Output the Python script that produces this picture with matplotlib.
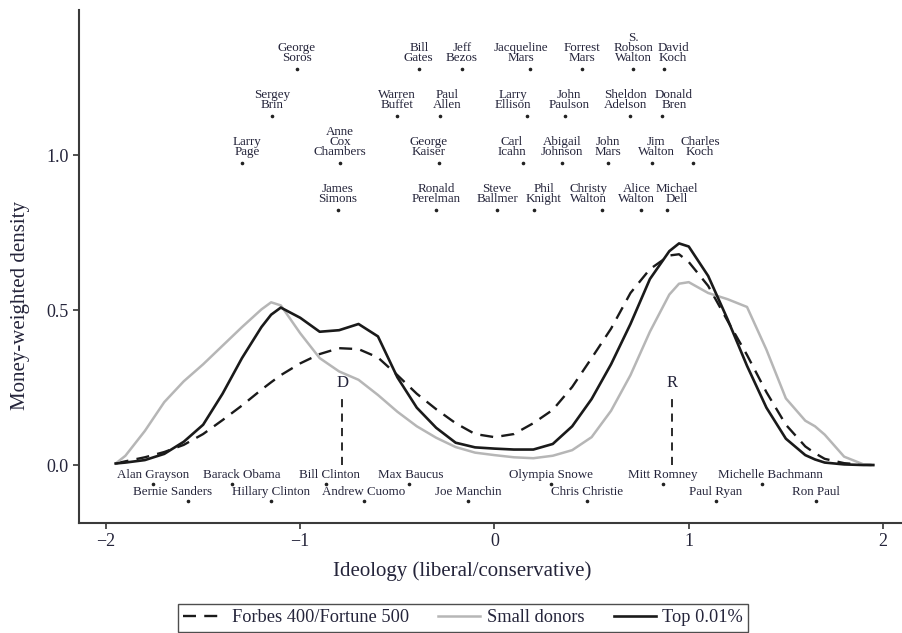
import matplotlib
matplotlib.use("Agg")
import matplotlib.pyplot as plt

plt.rcParams['font.family'] = ['Liberation Serif', 'DejaVu Serif']

# ---------------- data ----------------
x_grid = [-1.95, -1.9, -1.8, -1.7, -1.6, -1.5, -1.4, -1.3, -1.2, -1.15, -1.1, -1.0,
          -0.9, -0.8, -0.7, -0.6, -0.5, -0.4, -0.3, -0.2, -0.1, 0.0, 0.1, 0.2,
          0.3, 0.4, 0.5, 0.6, 0.7, 0.8, 0.9, 0.95, 1.0, 1.1, 1.2, 1.3, 1.4, 1.5,
          1.6, 1.65, 1.7, 1.8, 1.9, 1.95]

forbes = [0.005, 0.012, 0.025, 0.042, 0.065, 0.100, 0.145, 0.192, 0.243, 0.267, 0.290, 0.328,
          0.358, 0.377, 0.374, 0.347, 0.290, 0.230, 0.180, 0.135, 0.100, 0.090, 0.100, 0.135,
          0.178, 0.252, 0.345, 0.440, 0.555, 0.632, 0.676, 0.680, 0.655, 0.578, 0.465, 0.355,
          0.235, 0.130, 0.060, 0.038, 0.020, 0.006, 0.001, 0.0]

small = [0.005, 0.030, 0.110, 0.203, 0.270, 0.325, 0.385, 0.445, 0.502, 0.525, 0.515, 0.425,
         0.345, 0.302, 0.275, 0.226, 0.172, 0.125, 0.088, 0.058, 0.040, 0.032, 0.025, 0.022,
         0.030, 0.048, 0.090, 0.175, 0.290, 0.430, 0.550, 0.585, 0.590, 0.555, 0.535, 0.510,
         0.372, 0.215, 0.143, 0.125, 0.098, 0.027, 0.002, 0.0]

top001 = [0.005, 0.008, 0.016, 0.036, 0.075, 0.130, 0.230, 0.345, 0.445, 0.485, 0.508, 0.475,
          0.430, 0.435, 0.455, 0.415, 0.283, 0.185, 0.120, 0.072, 0.057, 0.053, 0.050, 0.050,
          0.068, 0.125, 0.213, 0.325, 0.455, 0.600, 0.690, 0.715, 0.705, 0.610, 0.470, 0.320,
          0.185, 0.085, 0.032, 0.018, 0.008, 0.002, 0.0, 0.0]

series_labels = ["Forbes 400/Fortune 500", "Small donors", "Top 0.01%"]

# billionaires: name, ideology, row (0 = top row)
rich_names = ["George\nSoros", "Bill\nGates", "Jeff\nBezos", "Jacqueline\nMars", "Forrest\nMars",
              "S.\nRobson\nWalton", "David\nKoch",
              "Sergey\nBrin", "Warren\nBuffet", "Paul\nAllen", "Larry\nEllison", "John\nPaulson",
              "Sheldon\nAdelson", "Donald\nBren",
              "Larry\nPage", "Anne\nCox\nChambers", "George\nKaiser", "Carl\nIcahn", "Abigail\nJohnson",
              "John\nMars", "Jim\nWalton", "Charles\nKoch",
              "James\nSimons", "Ronald\nPerelman", "Steve\nBallmer", "Phil\nKnight", "Christy\nWalton",
              "Alice\nWalton", "Michael\nDell"]
rich_ideology = [-1.017, -0.390, -0.167, 0.183, 0.449, 0.713, 0.873,
                 -1.147, -0.502, -0.281, 0.167, 0.363, 0.698, 0.861,
                 -1.300, -0.795, -0.286, 0.147, 0.347, 0.584, 0.811, 1.022,
                 -0.806, -0.301, 0.013, 0.203, 0.553, 0.753, 0.888]
rich_row = [0] * 7 + [1] * 7 + [2] * 8 + [3] * 7

# politicians
pol_names = ["Alan Grayson", "Barack Obama", "Bill Clinton", "Max Baucus", "Olympia Snowe",
             "Mitt Romney", "Michelle Bachmann",
             "Bernie Sanders", "Hillary Clinton", "Andrew Cuomo", "Joe Manchin", "Chris Christie",
             "Paul Ryan", "Ron Paul"]
pol_ideology = [-1.757, -1.351, -0.869, -0.440, 0.289, 0.867, 1.376,
                -1.578, -1.151, -0.672, -0.136, 0.475, 1.140, 1.655]
pol_row = [0] * 7 + [1] * 7

party_labels = ["D", "R"]
party_means = [-0.784, 0.914]

x_ticks = [-2, -1, 0, 1, 2]
x_ticklabels = ["\u22122", "\u22121", "0", "1", "2"]
y_ticks = [0.0, 0.5, 1.0]
y_ticklabels = ["0.0", "0.5", "1.0"]

# ---------------- style ----------------
TXT = "#24243a"
rich_row_y = [1.277, 1.126, 0.975, 0.823]
pol_dot_y = [-0.061, -0.116]
PX = 0.72  # points per pixel at 100 dpi
# horizontal label shifts (pixels) relative to the marker
rich_dx = {"David\nKoch": 9, "Michael\nDell": 10, "Donald\nBren": 12, "Sheldon\nAdelson": -5,
           "Jim\nWalton": 4, "Charles\nKoch": 7, "Alice\nWalton": -4, "Christy\nWalton": -13,
           "Phil\nKnight": 10, "Carl\nIcahn": -11, "Larry\nEllison": -14, "John\nPaulson": 4,
           "Jacqueline\nMars": -9, "Paul\nAllen": 7, "George\nKaiser": -10, "Larry\nPage": 5}
pol_dx = {"Bernie Sanders": -15, "Barack Obama": 10, "Michelle Bachmann": 9,
          "Bill Clinton": 4, "Max Baucus": 2}

fig = plt.figure(figsize=(9.03, 6.33), dpi=100)
ax = fig.add_axes([79 / 903, 1 - 523 / 633, (903 - 79) / 903, (523 - 10) / 633])

dash = (5.5, 3.5)
ax.plot(x_grid, forbes, color="#1a1a1a", lw=1.7, dashes=dash, label=series_labels[0])
ax.plot(x_grid, small, color="#b6b6b6", lw=1.8, label=series_labels[1])
ax.plot(x_grid, top001, color="#1a1a1a", lw=1.9, label=series_labels[2])

# party means
for lab, m in zip(party_labels, party_means):
    ax.plot([m, m], [0, 0.228], color="#1a1a1a", lw=1.3, dashes=(4.5, 3.5))
    ax.text(m, 0.265, lab, ha="center", va="center", fontsize=12, color=TXT)

# billionaires
for name, xi, r in zip(rich_names, rich_ideology, rich_row):
    yy = rich_row_y[r]
    ax.plot([xi], [yy], marker="o", ms=1.6, color="#222222", ls="none")
    ax.annotate(name, (xi, yy), xytext=(rich_dx.get(name, 0) * PX, 3.5),
                textcoords="offset points", ha="center", va="bottom",
                fontsize=9.4, linespacing=0.80, color=TXT)

# politicians
for name, xi, r in zip(pol_names, pol_ideology, pol_row):
    yy = pol_dot_y[r]
    ax.plot([xi], [yy], marker="o", ms=1.6, color="#222222", ls="none")
    ax.annotate(name, (xi, yy), xytext=(pol_dx.get(name, 0) * PX, 6.5),
                textcoords="offset points", ha="center", va="center",
                fontsize=9.4, color=TXT)

ax.set_xlim(-2.139, 2.103)
ax.set_ylim(-0.187, 1.468)
ax.set_xticks(x_ticks)
ax.set_xticklabels(x_ticklabels)
ax.set_yticks(y_ticks)
ax.set_yticklabels(y_ticklabels)
ax.tick_params(axis="both", labelsize=13, colors="#333333", labelcolor=TXT,
               length=4, width=1.2, direction="out")
for s in ["top", "right"]:
    ax.spines[s].set_visible(False)
for s in ["left", "bottom"]:
    ax.spines[s].set_color("#3a3a3a")
    ax.spines[s].set_linewidth(1.5)

ax.set_xlabel("Ideology (liberal/conservative)", fontsize=15, color=TXT)
ax.xaxis.set_label_coords((462 - 79) / (903 - 79), -(561 - 523) / (523 - 10))
ax.set_ylabel("Money-weighted density", fontsize=15, color=TXT)
ax.yaxis.set_label_coords(-(79 - 30) / (903 - 79), (523 - 305) / (523 - 10))

leg = fig.legend(loc="upper center", bbox_to_anchor=(463 / 903, 1 - 604 / 633), ncol=3,
                 frameon=True, fancybox=False, edgecolor="#222222", fontsize=13.2,
                 handlelength=2.3, columnspacing=1.6, handletextpad=0.35,
                 borderpad=0.3, borderaxespad=0.0, labelcolor=TXT)
leg.get_frame().set_linewidth(1.0)

fig.savefig("out.png", dpi=100)
